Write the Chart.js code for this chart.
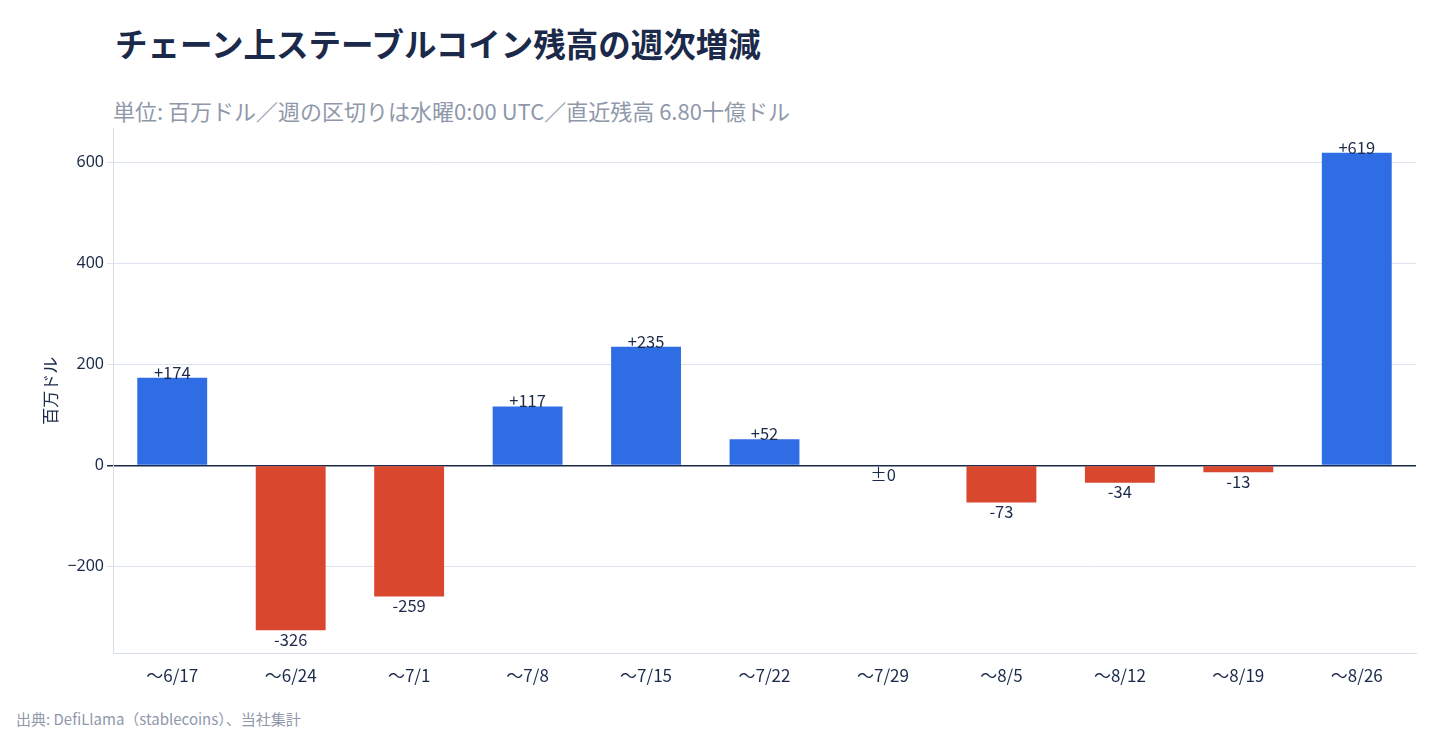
<!DOCTYPE html>
<html><head><meta charset="utf-8">
<script src="https://cdn.jsdelivr.net/npm/chart.js@4"></script>
<style>
body{margin:0;width:1440px;height:736px;background:#fff;font-family:"Noto Sans CJK JP","Noto Sans",sans-serif;position:relative;overflow:hidden}
#t{position:absolute;left:115px;top:19px;font-size:32.5px;font-weight:700;color:#1b2a4a}
#s{position:absolute;left:113px;top:94px;font-size:22px;color:#8f98aa}
#src{position:absolute;left:16px;top:708px;font-size:15px;color:#8f98aa}
#wrap{position:absolute;left:0;top:0;width:1440px;height:736px}
</style></head><body>
<div id="t">チェーン上ステーブルコイン残高の週次増減</div>
<div id="s">単位: 百万ドル／週の区切りは水曜0:00 UTC／直近残高 6.80十億ドル</div>
<div id="src">出典: DefiLlama（stablecoins）、当社集計</div>
<div id="wrap"><canvas id="c"></canvas></div>
<script>
const weeks = ["〜6/17","〜6/24","〜7/1","〜7/8","〜7/15","〜7/22","〜7/29","〜8/5","〜8/12","〜8/19","〜8/26"];
const changes = [174,-326,-259,117,235,52,0,-73,-34,-13,619];
const yTicks = [-200,0,200,400,600];

const fmt = v => v > 0 ? "+" + v : (v === 0 ? "±0" : String(v));

const labelPlugin = {
  id: "barLabels",
  afterDatasetsDraw(chart) {
    const ctx = chart.ctx;
    const meta = chart.getDatasetMeta(0);
    ctx.save();
    ctx.font = '16.5px "Noto Sans CJK JP", "Noto Sans", sans-serif';
    ctx.fillStyle = "#1b2a4a";
    ctx.textAlign = "center";
    meta.data.forEach((bar, i) => {
      const v = changes[i];
      if (v > 0) { ctx.textBaseline = "bottom"; ctx.fillText(fmt(v), bar.x, bar.y + 3); }
      else { ctx.textBaseline = "top"; ctx.fillText(fmt(v), bar.x, bar.y + 1); }
    });
    ctx.restore();
  }
};

new Chart(document.getElementById("c"), {
  type: "bar",
  data: {
    labels: weeks,
    datasets: [{
      data: changes,
      backgroundColor: changes.map(v => v >= 0 ? "#2f6de5" : "#d9472f"),
      barPercentage: 0.59,
      categoryPercentage: 1
    }]
  },
  options: {
    responsive: true,
    maintainAspectRatio: false,
    animation: false,
    layout: { padding: { top: 128, right: 24, bottom: 46, left: 36 } },
    plugins: { legend: { display: false }, tooltip: { enabled: false } },
    scales: {
      x: {
        grid: { display: false },
        border: { color: "#d5dcea" },
        ticks: { color: "#1b2a4a", font: { size: 17, family: '"Noto Sans CJK JP"' }, padding: 4 }
      },
      y: {
        min: -372, max: 668,
        afterBuildTicks: axis => { axis.ticks = yTicks.map(v => ({ value: v })); },
        grid: {
          color: ctx => ctx.tick && ctx.tick.value === 0 ? "#1b2a4a" : "#dde3ee",
          lineWidth: ctx => ctx.tick && ctx.tick.value === 0 ? 1.5 : 1,
          tickLength: 6
        },
        border: { color: "#d5dcea" },
        ticks: {
          color: "#1b2a4a", font: { size: 16, family: '"Noto Sans"' },
          callback: v => v < 0 ? "−" + Math.abs(v) : v
        },
        title: { display: true, text: "百万ドル", color: "#1b2a4a", font: { size: 17, family: '"Noto Sans CJK JP"' } }
      }
    }
  },
  plugins: [labelPlugin]
});
</script>
</body></html>
